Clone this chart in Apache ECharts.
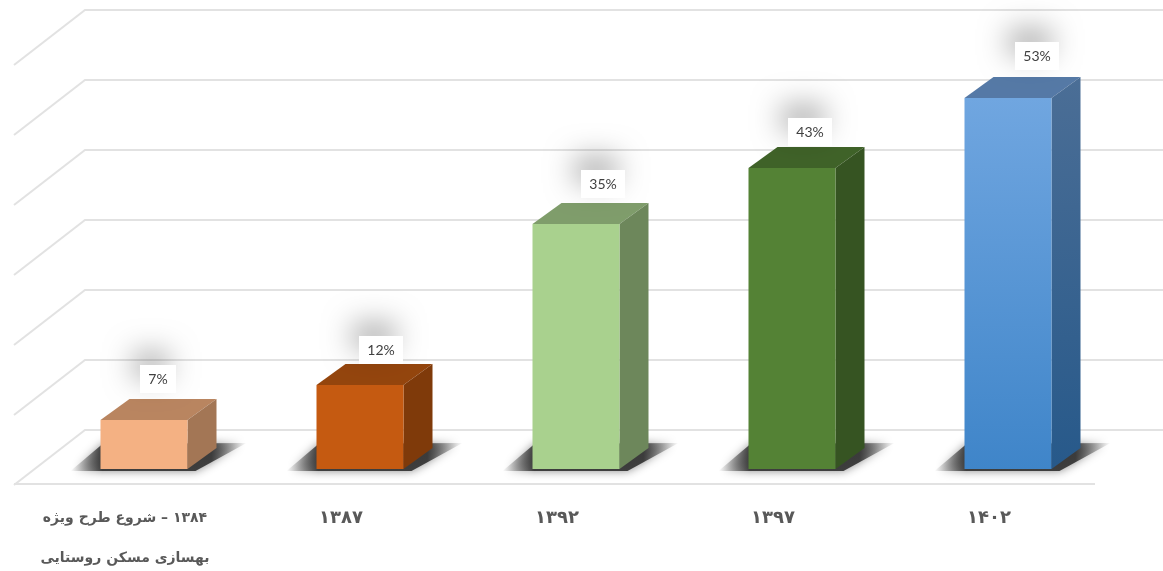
<!DOCTYPE html>
<html>
<head>
<meta charset="utf-8">
<style>html,body{margin:0;padding:0;background:#fff}#c{width:1163px;height:571px}</style>
<script src="https://cdn.jsdelivr.net/npm/echarts@6/dist/echarts.min.js"></script>
</head>
<body>
<div id="c" dir="rtl"></div>
<script>
const categories = ['۱۳۸۴ – شروع طرح ویژه\nبهسازی مسکن روستایی', '۱۳۸۷', '۱۳۹۲', '۱۳۹۷', '۱۴۰۲'];
const percentValues = [7, 12, 35, 43, 53];
const gridValues = [0, 10, 20, 30, 40, 50, 60];

const faceColors = [
  {front: ['#F4B183', '#F4B183'], top: '#B98560', side: ['#A37655', '#A37655']},
  {front: ['#C55A11', '#C55A11'], top: '#94450D', side: ['#7F3A0A', '#7F3A0A']},
  {front: ['#A9D18E', '#A9D18E'], top: '#7F9D6B', side: ['#6D875B', '#6D875B']},
  {front: ['#548235', '#548235'], top: '#3F6228', side: ['#365422', '#365422']},
  {front: ['#70A6E0', '#3F85C9'], top: '#5579A6', side: ['#4B6E96', '#27598A']}
];
const labelShiftX = [14, 21, 27, 18, 29];
const labelShiftY = [-41, -35, -40, -36, -42];
const labelWidth = [36, 44, 44, 44, 44];
const BAR_W = 87, DX = 29, DY = 21;
const BACK_DY = -39, LEFT_X = 14, BACK_X = 85, RIGHT_X = 1163, LEFT_DY = 16;

function grad(c) {
  return new echarts.graphic.LinearGradient(0, 0, 0, 1, [{offset: 0, color: c[0]}, {offset: 1, color: c[1]}]);
}
const chart = echarts.init(document.getElementById('c'), null, {renderer: 'canvas'});
chart.setOption({
  animation: false,
  backgroundColor: '#fff',
  grid: {left: 36, right: 47, top: 49, bottom: 102, outerBoundsMode: 'none', containLabel: false},
  xAxis: {
    type: 'category', data: categories,
    axisLine: {show: false}, axisTick: {show: false}, splitLine: {show: false},
    axisLabel: {
      interval: 0, margin: 29, padding: [0, 38, 0, 0],
      formatter: v => v.split('\n').map(s => (v.includes('\n') ? '{t|' : '{y|') + s + '}').join('\n'),
      rich: {
        t: {color: '#595959', lineHeight: 40, fontFamily: '"DejaVu Sans"', fontWeight: 'bold', fontSize: 14},
        y: {color: '#595959', lineHeight: 40, fontFamily: '"DejaVu Sans"', fontWeight: 'bold', fontSize: 18}
      }
    }
  },
  yAxis: {type: 'value', min: 0, max: 60, interval: 10, show: false},
  series: [
    {
      type: 'custom', silent: true, z: 1,
      data: gridValues.map(v => [0, v]),
      renderItem(params, api) {
        const y = api.coord([0, api.value(1)])[1];
        const line = {stroke: '#E2E2E2', lineWidth: 2, fill: null};
        const children = [{
          type: 'polyline',
          shape: {points: [[LEFT_X, y + LEFT_DY], [BACK_X, y + BACK_DY], [RIGHT_X, y + BACK_DY]]},
          style: line
        }];
        if (api.value(1) === 0) {
          children.push({type: 'line', shape: {x1: LEFT_X, y1: y + 15, x2: 1095, y2: y + 15}, style: line});
        }
        return {type: 'group', children};
      }
    },
    {
      type: 'custom', silent: true, z: 2,
      data: percentValues.map((v, i) => [i, v]),
      renderItem(params, api) {
        const i = params.dataIndex;
        const base = api.coord([api.value(0), 0]);
        const top = api.coord([api.value(0), api.value(1)]);
        const l = base[0] - BAR_W / 2, r = base[0] + BAR_W / 2;
        const b = base[1], t = top[1];
        const fc = faceColors[i];
        const shade = new echarts.graphic.LinearGradient(0, 0, 1, 0, [
          {offset: 0, color: 'rgba(80,80,80,0)'},
          {offset: 0.18, color: 'rgba(55,55,55,0.95)'},
          {offset: 0.8, color: 'rgba(55,55,55,0.95)'},
          {offset: 1, color: 'rgba(80,80,80,0)'}
        ]);
        return {type: 'group', children: [
          {type: 'polygon', z2: 1,
            shape: {points: [[l - 30, b + 2], [l + 2, b - 25], [r + DX + 30, b - 26], [r + 8, b + 2]]},
            style: {fill: shade, shadowBlur: 10, shadowColor: 'rgba(50,50,50,0.6)'}},
          {type: 'polygon', z2: 2,
            shape: {points: [[l, t], [l + DX, t - DY], [r + DX, t - DY], [r, t]]},
            style: {fill: fc.top}},
          {type: 'polygon', z2: 2,
            shape: {points: [[r, t], [r + DX, t - DY], [r + DX, b - DY], [r, b]]},
            style: {fill: grad(fc.side)}},
          {type: 'rect', z2: 3,
            shape: {x: l, y: t, width: BAR_W, height: b - t},
            style: {fill: grad(fc.front)}}
        ]};
      }
    },
    {
      type: 'custom', silent: true, z: 3,
      data: percentValues.map((v, i) => [i, v]),
      renderItem(params, api) {
        const i = params.dataIndex;
        const top = api.coord([api.value(0), api.value(1)]);
        const cx = top[0] + labelShiftX[i], cy = top[1] + labelShiftY[i];
        const w = labelWidth[i], h = 28;
        return {type: 'group', children: [
          {type: 'rect', shape: {x: cx - w / 2, y: cy - h / 2, width: w, height: h},
            style: {fill: '#fff', shadowBlur: 28, shadowOffsetY: -14, shadowOffsetX: -7, shadowColor: 'rgba(0,0,0,0.3)'}},
          {type: 'text', z2: 2,
            style: {x: cx, y: cy, text: api.value(1) + '%', fill: '#404040', align: 'center', verticalAlign: 'middle',
              font: '14px Lato'}}
        ]};
      }
    }
  ]
});
</script>
</body>
</html>
